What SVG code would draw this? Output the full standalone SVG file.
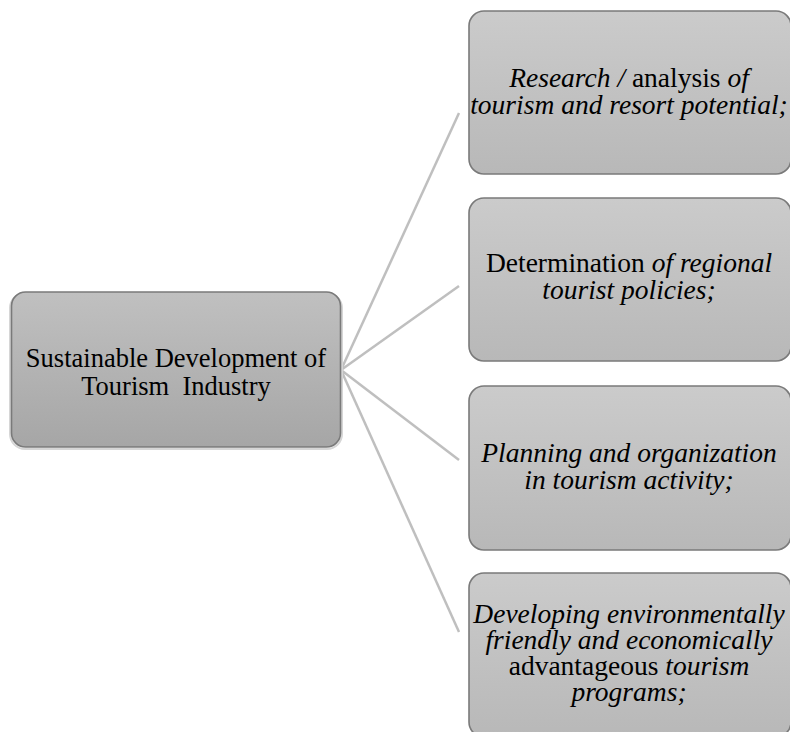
<svg xmlns="http://www.w3.org/2000/svg" width="790" height="732" viewBox="0 0 790 732">
<defs>
<linearGradient id="gC" x1="0" y1="0" x2="0" y2="1"><stop offset="0" stop-color="#c0c0c0"/><stop offset="1" stop-color="#a6a6a6"/></linearGradient>
<linearGradient id="gR" x1="0" y1="0" x2="0" y2="1"><stop offset="0" stop-color="#cbcbcb"/><stop offset="1" stop-color="#b8b8b8"/></linearGradient>
</defs>
<style>
.box{stroke:#7a7a7a;stroke-width:1.6}
.sh{fill:none;stroke:#d6d6d6;stroke-width:2}
.c{fill:url(#gC)}
.r{fill:url(#gR)}
text{font-family:"Liberation Serif","Times New Roman",serif;fill:#000;text-anchor:middle}
.t0{font-size:26.5px}
.t1{font-size:27.5px}
.i{font-style:italic}
.conn line{stroke:#bfbfbf;stroke-width:2.5}
</style>
<rect width="790" height="732" fill="#fff"/>
<g class="conn" id="connectors">
<line x1="341" y1="370" x2="459" y2="113"/>
<line x1="341" y1="370" x2="459" y2="286"/>
<line x1="341" y1="370" x2="459" y2="460"/>
<line x1="341" y1="370" x2="459" y2="632"/>
</g>
<g id="root">
<rect class="sh" x="10" y="293" width="332" height="156" rx="15"/>
<rect class="box c" x="11.5" y="292" width="329" height="155" rx="14"/>
<text class="t0" x="176" y="367">Sustainable Development of</text>
<text class="t0" x="176" y="395" style="white-space:pre">Tourism  Industry</text>
</g>
<g id="n1">
<rect class="box r" x="469" y="11" width="322" height="163" rx="15"/>
<text class="t1" x="629" y="87"><tspan class="i">Research /</tspan> analysis <tspan class="i">of</tspan></text>
<text class="t1 i" x="629" y="114">tourism and resort potential;</text>
</g>
<g id="n2">
<rect class="box r" x="469" y="198" width="322" height="163" rx="15"/>
<text class="t1" x="629" y="272">Determination <tspan class="i">of regional</tspan></text>
<text class="t1 i" x="629" y="299">tourist policies;</text>
</g>
<g id="n3">
<rect class="box r" x="469" y="386" width="322" height="164" rx="15"/>
<text class="t1 i" x="629" y="462">Planning and organization</text>
<text class="t1 i" x="629" y="489">in tourism activity;</text>
</g>
<g id="n4">
<rect class="box r" x="469" y="573" width="322" height="164" rx="15"/>
<text class="t1 i" x="629" y="623">Developing environmentally</text>
<text class="t1 i" x="629" y="649">friendly and economically</text>
<text class="t1" x="629" y="675">advantageous <tspan class="i">tourism</tspan></text>
<text class="t1 i" x="629" y="701">programs;</text>
</g>
</svg>
